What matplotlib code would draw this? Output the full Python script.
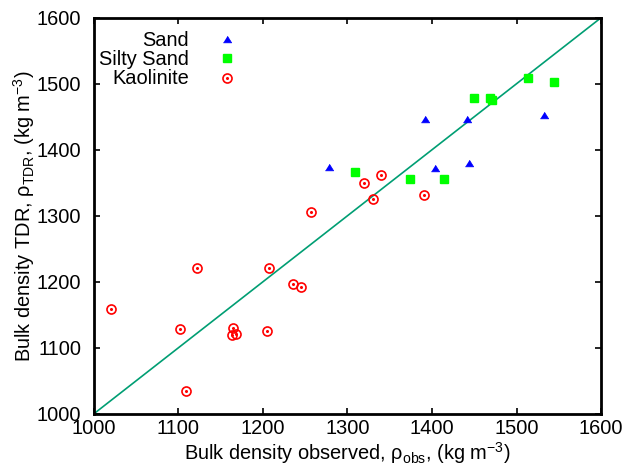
import matplotlib
matplotlib.use("Agg")
import matplotlib.pyplot as plt

plt.rcParams['font.family'] = ['Liberation Sans', 'DejaVu Sans']
plt.rcParams['mathtext.fontset'] = 'custom'
plt.rcParams['mathtext.rm'] = 'Liberation Sans'
plt.rcParams['mathtext.it'] = 'Liberation Sans'
plt.rcParams['mathtext.default'] = 'regular'

# Observed vs TDR-estimated bulk density (kg m^-3)
sand_obs = [1278, 1392, 1441, 1403, 1444, 1533]
sand_tdr = [1374, 1447, 1446, 1373, 1380, 1452]

silty_obs = [1309, 1374, 1414, 1450, 1469, 1471, 1514, 1544]
silty_tdr = [1366, 1355, 1355, 1479, 1478, 1476, 1508, 1502]

kaol_obs = [1020, 1122, 1102, 1109, 1164, 1163, 1168, 1207, 1205, 1235, 1245,
            1257, 1330, 1320, 1340, 1390]
kaol_tdr = [1159, 1221, 1129, 1035, 1130, 1120, 1121, 1221, 1125, 1197, 1192,
            1306, 1325, 1349, 1361, 1331]

ticks = [1000, 1100, 1200, 1300, 1400, 1500, 1600]
one_to_one = [1000, 1600]

FS = 14.4
TRI = [(-1, -0.8), (1, -0.8), (0, 0.8)]
TRI_MS = 6
SQ_MS = 6.3
CIRC_MS = 6.5

fig = plt.figure(figsize=(6.29, 4.68), dpi=100)
ax = fig.add_axes([0.1494, 0.116, 0.8061, 0.846])

ax.plot(one_to_one, one_to_one, color='#009e73', lw=1.2, zorder=1)

ax.plot(sand_obs, sand_tdr, ls='none', marker=TRI, ms=TRI_MS, color='#0000ff',
        mec='#0000ff', mew=0.5, zorder=3)
ax.plot(silty_obs, silty_tdr, ls='none', marker='s', ms=SQ_MS, color='#00ff00',
        mec='#00ff00', zorder=3)
ax.plot(kaol_obs, kaol_tdr, ls='none', marker='o', ms=CIRC_MS, mfc='none',
        mec='#ff0000', mew=1.2, zorder=3)
ax.plot(kaol_obs, kaol_tdr, ls='none', marker='o', ms=1.2, color='#ff0000',
        mec='#ff0000', zorder=3)

ax.set_xlim(1000, 1600)
ax.set_ylim(1000, 1600)
ax.set_xticks(ticks)
ax.set_yticks(ticks)
ax.tick_params(direction='in', length=4, width=1.2, top=True, right=True,
               labelsize=FS, colors='black')
ax.tick_params(axis='x', pad=3.5)
ax.tick_params(axis='y', pad=9)
for s in ax.spines.values():
    s.set_linewidth(2)

ax.set_xlabel(r'Bulk density observed, $\rho_{obs}$, (kg m$^{-3}$)',
              fontsize=FS, labelpad=2)
ax.set_ylabel(r'Bulk density TDR, $\rho_{TDR}$, (kg m$^{-3}$)',
              fontsize=FS, labelpad=0)

# Key in the upper-left corner: right-aligned labels, sample to the right
key_labels = ['Sand', 'Silty Sand', 'Kaolinite']
text_y = [0.9285, 0.880, 0.8326]
mark_y = [0.9455, 0.8975, 0.847]
tr = ax.transAxes
for lab, ty in zip(key_labels, text_y):
    ax.text(0.187, ty, lab, transform=tr, ha='right', va='baseline', fontsize=FS)
kx = 0.2617
ax.plot([kx], [mark_y[0]], transform=tr, marker=TRI, ms=TRI_MS, color='#0000ff',
        mew=0.5, ls='none')
ax.plot([kx], [mark_y[1]], transform=tr, marker='s', ms=SQ_MS, color='#00ff00', ls='none')
ax.plot([kx], [mark_y[2]], transform=tr, marker='o', ms=CIRC_MS, mfc='none',
        mec='#ff0000', mew=1.2, ls='none')
ax.plot([kx], [mark_y[2]], transform=tr, marker='o', ms=1.2, color='#ff0000', ls='none')

fig.savefig('out.png', dpi=100)
